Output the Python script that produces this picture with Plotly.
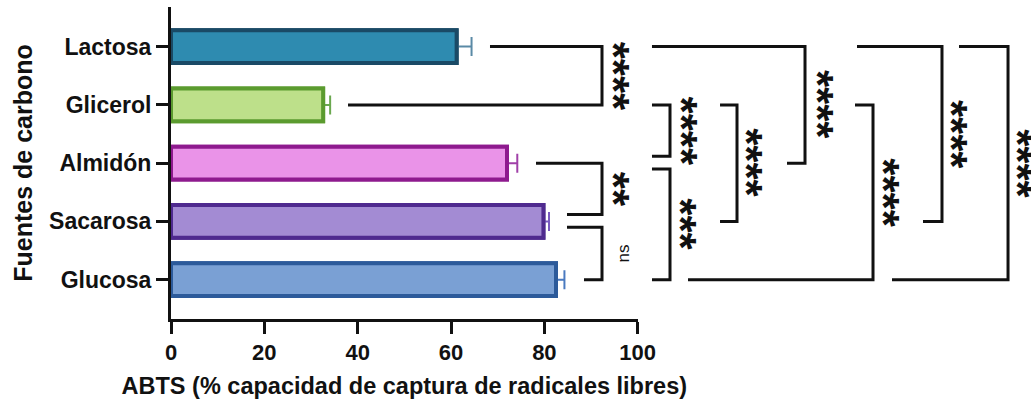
import plotly.graph_objects as go

# ---------------- data ----------------
categories = ["Glucosa", "Sacarosa", "Almidón", "Glicerol", "Lactosa"]
values = [82.5, 79.8, 72.0, 32.6, 61.2]
errors = [1.8, 1.2, 2.2, 1.5, 3.2]

x_ticks = [0, 20, 40, 60, 80, 100]
x_title = "ABTS (% capacidad de captura de radicales libres)"
y_title = "Fuentes de carbono"

# comparisons: (upper category, lower category, label)
comparisons = [
    ("Lactosa", "Glicerol", "****"),
    ("Almidón", "Sacarosa", "**"),
    ("Sacarosa", "Glucosa", "ns"),
    ("Glicerol", "Almidón", "****"),
    ("Almidón", "Glucosa", "***"),
    ("Glicerol", "Sacarosa", "****"),
    ("Lactosa", "Almidón", "****"),
    ("Glicerol", "Glucosa", "****"),
    ("Lactosa", "Sacarosa", "****"),
    ("Lactosa", "Glucosa", "****"),
]

# ---------------- styles / layout ----------------
fills = ["#7aa0d4", "#a38bd3", "#ea93e8", "#bde08a", "#2e8bb0"]
lines = ["#2c5a9a", "#4f2a8f", "#8e1a8e", "#5b9b2f", "#1a4a66"]
err_cols = ["#4a7ac0", "#7a5ac0", "#a040a8", "#6aa84f", "#5a8aa6"]

# bracket geometry (x in extended-axis units): vertical, top start, bottom start, label x,
# y nudges (category units) for top / bottom ends
bracket_geom = [
    (92.35, 68.35, 37.93, 96.85, 0.0, 0.0),
    (92.35, 78.21, 84.85, 96.85, 0.0, 0.12),
    (92.35, 84.85, 88.49, 96.85, -0.10, 0.0),
    (106.92, 103.06, 103.06, 111.42, 0.0, 0.12),
    (106.92, 103.06, 103.06, 111.42, -0.10, 0.0),
    (121.28, 117.64, 117.64, 125.56, 0.0, 0.0),
    (135.85, 103.06, 131.99, 140.56, 0.0, 0.0),
    (150.42, 146.56, 110.78, 154.92, 0.0, 0.0),
    (165.20, 146.99, 161.13, 169.49, 0.0, 0.0),
    (179.35, 168.85, 154.49, 183.63, 0.0, 0.0),
]

W, H = 1031, 404
ML, MR, MT, MB = 171, 0, 7, 85
px_per_unit = 4.667
plot_w = W - ML - MR
x_dom_end = (x_ticks[-1] - x_ticks[0]) * px_per_unit / plot_w
x2_max = plot_w / px_per_unit

FONT = "Liberation Sans"
BLACK = "#111111"

fig = go.Figure()

# bars with error bars (underneath), then clean bars on top to hide inner part of error bars
for i, cat in enumerate(categories):
    fig.add_trace(go.Bar(
        x=[values[i]], y=[cat], orientation="h", width=0.56,
        marker=dict(color=fills[i], line=dict(color=lines[i], width=4)),
        error_x=dict(type="data", array=[errors[i]], arrayminus=[0], symmetric=False,
                     color=err_cols[i], thickness=2, width=9.5),
        showlegend=False, hoverinfo="skip",
    ))
for i, cat in enumerate(categories):
    fig.add_trace(go.Bar(
        x=[values[i]], y=[cat], orientation="h", width=0.56,
        marker=dict(color=fills[i], line=dict(color=lines[i], width=4)),
        showlegend=False, hoverinfo="skip",
    ))

# helper trace to create the extended subplot used for the significance brackets
fig.add_trace(go.Scatter(x=[None], y=[categories[0]], xaxis="x2", yaxis="y",
                         mode="markers", showlegend=False, hoverinfo="skip"))

idx = {c: i for i, c in enumerate(categories)}
shapes = []
annotations = []
for (top, bot, lab), (xv, xt, xb, xl, dyt, dyb) in zip(comparisons, bracket_geom):
    yt = idx[top] + dyt
    yb = idx[bot] + dyb
    path = f"M{xt},{yt} L{xv},{yt} L{xv},{yb} L{xb},{yb}"
    shapes.append(dict(type="path", path=path, xref="x2", yref="y",
                       line=dict(color=BLACK, width=3)))
    ym = (yt + yb) / 2
    if lab == "ns":
        annotations.append(dict(x=xl, y=ym, xref="x2", yref="y", text=lab, showarrow=False,
                                textangle=-90, font=dict(family=FONT, size=17, color=BLACK),
                                xanchor="center", yanchor="middle"))
    else:
        annotations.append(dict(x=xl, y=ym, xref="x2", yref="y", text=lab, showarrow=False,
                                textangle=90, xshift=-10,
                                font=dict(family=FONT, size=44, color=BLACK, weight="bold"),
                                xanchor="center", yanchor="middle"))

fig.update_layout(
    width=W, height=H, autosize=False,
    margin=dict(l=ML, r=MR, t=MT, b=MB, pad=0, autoexpand=False),
    paper_bgcolor="white", plot_bgcolor="rgba(0,0,0,0)",
    barmode="overlay", showlegend=False,
    font=dict(family=FONT, color=BLACK),
    xaxis=dict(domain=[0, x_dom_end], range=[x_ticks[0], x_ticks[-1]], automargin=False,
               tickvals=x_ticks, ticks="outside", ticklen=12, tickwidth=3, tickcolor=BLACK,
               showline=True, linewidth=3, linecolor=BLACK, showgrid=False, zeroline=False,
               tickfont=dict(family=FONT, size=22, color=BLACK, weight="bold"),
               title=dict(text=x_title, standoff=14,
                          font=dict(family=FONT, size=23.5, color=BLACK, weight="bold"))),
    xaxis2=dict(domain=[0, 1], range=[0, x2_max], anchor="y", visible=False, automargin=False),
    yaxis=dict(type="category", categoryorder="array", categoryarray=categories,
               range=[-0.675, 4.68], automargin=False,
               ticks="outside", ticklen=12, tickwidth=3, tickcolor=BLACK,
               showline=True, linewidth=3, linecolor=BLACK, showgrid=False, zeroline=False,
               tickfont=dict(family=FONT, size=23, color=BLACK, weight="bold"),
               title=dict(text=y_title, standoff=10,
                          font=dict(family=FONT, size=25, color=BLACK, weight="bold"))),
    shapes=shapes,
    annotations=annotations,
)

fig.write_html("out.html", config={"displayModeBar": False})
